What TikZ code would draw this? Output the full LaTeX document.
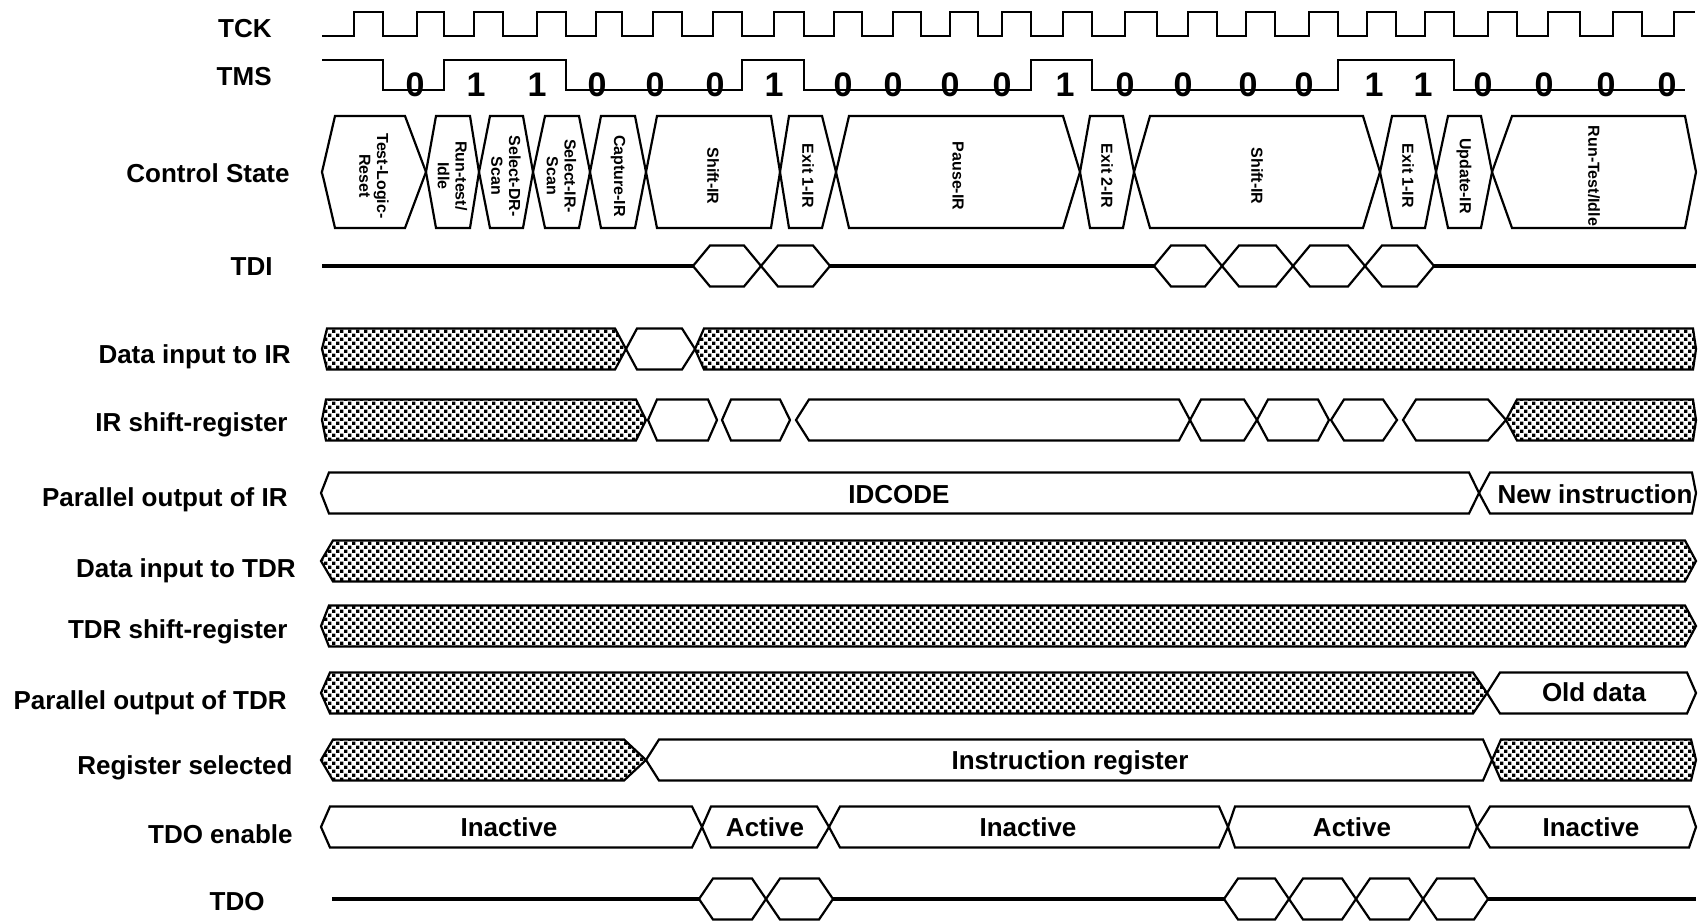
\documentclass[tikz,border=0pt]{standalone}
\usepackage{fontspec}
\setmainfont{Liberation Sans}
\usetikzlibrary{patterns}

% dotted fill of the undefined bus values
\pgfdeclarepatternformonly{jtagdots}{\pgfqpoint{-0.1pt}{-0.1pt}}{\pgfqpoint{4.1pt}{4.1pt}}{\pgfqpoint{4pt}{4pt}}{%
  \pgfpathrectangle{\pgfqpoint{0pt}{0pt}}{\pgfqpoint{1.7pt}{1.7pt}}%
  \pgfpathrectangle{\pgfqpoint{2pt}{2pt}}{\pgfqpoint{1.7pt}{1.7pt}}%
  \pgfusepath{fill}}

% hexagon bus segment: [style]{left point}{right point}{mid y}{left slant}{right slant}
\newcommand\halfh{20.5}
\newcommand\hexseg[6][]{%
  \draw[seg,#1] (#2,#4) -- ++(#5,-\halfh) -- ({#3-#6},{#4-\halfh}) -- (#3,#4)
    -- ({#3-#6},{#4+\halfh}) -- ({#2+#5},{#4+\halfh}) -- cycle;}

\begin{document}
\begin{tikzpicture}[x=0.5pt, y=-0.5pt,
    sig/.style={line width=1.1pt},
    bus/.style={line width=2pt},
    seg/.style={line width=1.1pt},
    hatch/.style={pattern=jtagdots},
    lbl/.style={anchor=base east, inner sep=0pt, font=\fontsize{13}{15}\selectfont\bfseries},
    boxtxt/.style={anchor=base, inner sep=0pt, font=\fontsize{13}{15}\selectfont\bfseries},
    digit/.style={anchor=base, inner sep=0pt, font=\fontsize{17}{19}\selectfont\bfseries},
    statetxt/.style={rotate=-90, align=center, inner sep=0pt,
      font=\fontsize{8}{8.8}\selectfont\bfseries}]
  \fill[white] (0,0) rectangle (1702,921);

  % signal names
  \node[lbl] (tck) at (272,37) {TCK};
  \node[lbl] (tms) at (272,85) {TMS};
  \node[lbl] (ctrl) at (290,182) {Control State};
  \node[lbl] (tdi) at (273,275) {TDI};
  \node[lbl] (diir) at (291,363) {Data input to IR};
  \node[lbl] (irsr) at (288,431) {IR shift-register};
  \node[lbl] (poir) at (288,506) {Parallel output of IR};
  \node[lbl] (ditdr) at (296,577) {Data input to TDR};
  \node[lbl] (tdrsr) at (288,638) {TDR shift-register};
  \node[lbl] (potdr) at (287,709) {Parallel output of TDR};
  \node[lbl] (regsel) at (293,774) {Register selected};
  \node[lbl] (tdoen) at (293,843) {TDO enable};
  \node[lbl] (tdo) at (265,910) {TDO};

  % TCK
  \draw[sig] (322,36) foreach \r/\f in {354/383,417/444,474/503,537/566,596/622,653/682,
      713/742,774/804,834/862,893/921,950/978,1002/1031,1063/1092,1125/1157,1188/1217,
      1246/1275,1309/1338,1367/1396,1425/1454,1488/1517,1548/1580,1613/1642}
    { -- (\r,36) -- (\r,12) -- (\f,12) -- (\f,36) } -- (1674,36) -- (1674,12) -- (1695,12);

  % TMS
  \draw[sig] (322,60) -- (383,60) -- (383,90) -- (444,90) -- (444,60) -- (566,60)
    -- (566,90) -- (742,90) -- (742,60) -- (804,60) -- (804,90) -- (1031,90)
    -- (1031,60) -- (1092,60) -- (1092,90) -- (1338,90) -- (1338,60) -- (1454,60)
    -- (1454,90) -- (1685,90);
  \foreach \x/\v in {415/0,476/1,537/1,597/0,655/0,715/0,774/1,843/0,893/0,950/0,1002/0,
      1065/1,1125/0,1183/0,1248/0,1304/0,1374/1,1423/1,1483/0,1544/0,1606/0,1667/0}
    \node[digit] (tmsd\x) at (\x,96) {\v};

  % controller states
  \begin{scope}
    \renewcommand\halfh{56}
    \foreach \xa/\xb/\sa/\sb/\name in {322/426/13/21/{Test-Logic-\\Reset},
        426/479/10/9/{Run-test/\\Idle}, 479/533/11/10/{Select-DR-\\Scan},
        533/590/12/11/{Select-IR-\\Scan}, 590/646/11/11/{Capture-IR},
        646/780/11/9/{Shift-IR}, 780/836/9/14/{Exit 1-IR}, 836/1080/13/17/{Pause-IR},
        1080/1134/10/11/{Exit 2-IR}, 1134/1380/16/17/{Shift-IR}, 1380/1436/12/11/{Exit 1-IR},
        1436/1492/12/11/{Update-IR}, 1492/1696/20/11/{Run-Test/Idle}} {
      \hexseg{\xa}{\xb}{172}{\sa}{\sb}
      \node[statetxt] (cs\xa) at ({(\xa+\xb)/2},176) {\name};
    }
  \end{scope}

  % TDI
  \draw[bus] (322,266) -- (693,266) (830,266) -- (1154,266) (1434,266) -- (1696,266);
  \foreach \xa/\xb in {693/761,761/830,1154/1222,1222/1293,1293/1365,1365/1434}
    {\hexseg{\xa}{\xb}{266}{17}{17}}

  % data input to IR
  \hexseg[hatch]{322}{626}{349}{5}{11}
  \hexseg{626}{695}{349}{11}{13}
  \hexseg[hatch]{695}{1696}{349}{9}{3}

  % IR shift-register
  \hexseg[hatch]{322}{646}{420}{4}{10}
  \foreach \xa/\xb/\sa/\sb in {648/717/9/9,722/790/9/10,796/1190/13/11,1190/1257/11/13,
      1257/1329/11/11,1331/1397/13/14,1403/1506/13/18}
    {\hexseg{\xa}{\xb}{420}{\sa}{\sb}}
  \hexseg[hatch]{1506}{1696}{420}{11}{3}

  % parallel output of IR
  \hexseg{321}{1479}{493}{8}{10}
  \hexseg{1479}{1696}{493}{11}{4}
  \node[boxtxt] (idcode) at (899,503) {IDCODE};
  \node[boxtxt] (newinstr) at (1595,503) {New instruction};

  % data input to TDR and TDR shift-register
  \hexseg[hatch]{321}{1696}{561}{12}{11}
  \hexseg[hatch]{321}{1696}{626}{8}{11}

  % parallel output of TDR
  \hexseg[hatch]{321}{1487}{693}{9}{14}
  \hexseg{1487}{1696}{693}{13}{9}
  \node[boxtxt] (olddata) at (1594,701) {Old data};

  % register selected
  \hexseg[hatch]{321}{646}{760}{12}{22}
  \hexseg{646}{1492}{760}{13}{9}
  \hexseg[hatch]{1492}{1696}{760}{9}{5}
  \node[boxtxt] (instrreg) at (1070,769) {Instruction register};

  % TDO enable
  \foreach \xa/\xb/\sa/\sb in {321/702/9/10,702/829/9/12,829/1228/11/9,1228/1477/7/8,1477/1696/13/7}
    {\hexseg{\xa}{\xb}{827}{\sa}{\sb}}
  \foreach \x/\t [count=\i] in {509/Inactive,765/Active,1028/Inactive,1352/Active,1591/Inactive}
    \node[boxtxt] (en\i) at (\x,836) {\t};

  % TDO
  \draw[bus] (332,899) -- (699,899) (833,899) -- (1224,899) (1488,899) -- (1696,899);
  \foreach \xa/\xb in {699/766,766/833,1224/1289,1289/1356,1356/1423,1423/1488}
    {\hexseg{\xa}{\xb}{899}{14}{14}}
\end{tikzpicture}
\end{document}
